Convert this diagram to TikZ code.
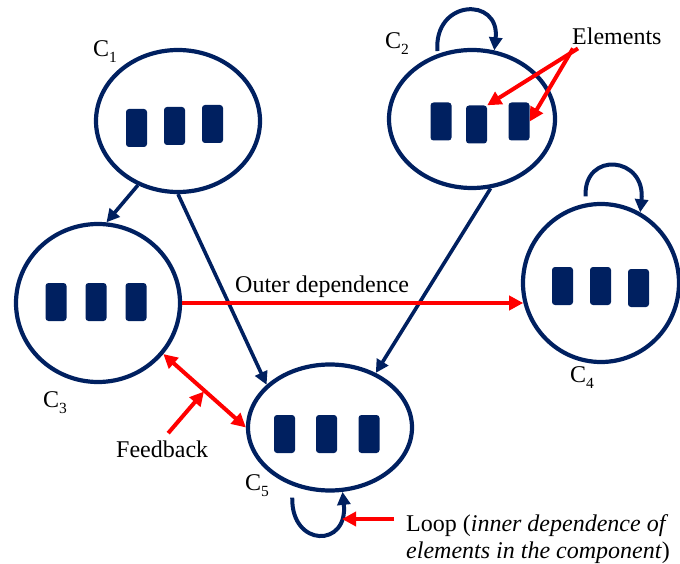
\documentclass[tikz,border=0pt]{standalone}
\usepackage{fontspec}
\setmainfont{Liberation Serif}
\usetikzlibrary{shapes.geometric,arrows.meta,calc}
\definecolor{navy}{HTML}{002060}
\definecolor{redarr}{HTML}{FF0000}
\newcommand\cname[1]{C\raisebox{-6pt}{\fontsize{15.5}{15.5}\selectfont #1}}
\begin{document}
\begin{tikzpicture}[x=1pt,y=-1pt,
  comp/.style={ellipse,draw=navy,line width=4.2pt,inner sep=0pt},
  elem/.style={fill=navy,rounded corners=3pt,minimum width=21pt,minimum height=38pt,inner sep=0pt},
  lbl/.style={inner sep=0pt,anchor=base west,font=\fontsize{24}{28}\selectfont},
  navyarr/.style={draw=navy,line width=3.6pt,-{Triangle[length=13pt,width=13pt]}},
  redarr/.style={draw=redarr,line width=4pt,-{Triangle[length=14pt,width=14pt]}},
  loopline/.style={draw=navy,line width=4pt},
]
\useasboundingbox (0,0) rectangle (680,564);
% components
\node[comp,minimum width=164pt,minimum height=142pt] (c1) at (178,121) {};
\node[comp,minimum width=166pt,minimum height=138pt] (c2) at (472,119) {};
\node[comp,minimum width=164pt,minimum height=158pt] (c3) at (98,303) {};
\node[comp,minimum width=156pt,minimum height=158pt] (c4) at (601,283) {};
\node[comp,minimum width=164pt,minimum height=126pt] (c5) at (330,427.5) {};
% elements
\node[elem] (c1a) at (136.5,128) {};
\node[elem] (c1b) at (174.5,126) {};
\node[elem] (c1c) at (212.5,124) {};
\node[elem] (c2a) at (441,121.5) {};
\node[elem] (c2b) at (476.5,124.5) {};
\node[elem] (c2c) at (519,121.5) {};
\node[elem] (c3a) at (56,302) {};
\node[elem] (c3b) at (96,302) {};
\node[elem] (c3c) at (136,302) {};
\node[elem] (c4a) at (562.5,286) {};
\node[elem] (c4b) at (600.5,286) {};
\node[elem] (c4c) at (638.5,288) {};
\node[elem] (c5a) at (284.5,434) {};
\node[elem] (c5b) at (326.5,434) {};
\node[elem] (c5c) at (369,434) {};
% component labels
\node[lbl] (l1) at (93,57) {\cname{1}};
\node[lbl] (l2) at (385,49) {\cname{2}};
\node[lbl] (l3) at (43,407) {\cname{3}};
\node[lbl] (l4) at (570,382) {\cname{4}};
\node[lbl] (l5) at (245,490) {\cname{5}};
% text labels
\node[lbl] (el) at (572,45) {Elements};
\node[lbl] (od) at (235,292) {Outer dependence};
\node[lbl] (fb) at (116,457) {Feedback};
\node[lbl] (lp1) at (406,531) {Loop (\textit{inner dependence of}};
\node[lbl] (lp2) at (406,558) {\textit{elements in the component}\/)};
% navy dependence arrows
\draw[navyarr] (c1.238) -- (c3.84);
\draw[navyarr] (c1.-90) -- (c5.146);
\draw[navyarr] (c2.-75) -- (c5.50);
% loops
\draw[loopline,-{Triangle[length=13pt,width=13pt]}] ([shift={(0,-3)}]c2.118) .. controls +(-4,-52) and +(6,-54) .. (c2.72);
\draw[loopline,-{Triangle[length=13pt,width=13pt]}] ([shift={(0,-7)}]c4.101) .. controls +(-2,-46) and +(6,-56) .. (c4.61);
\draw[loopline,-{Triangle[length=13pt,width=13pt]}] ([shift={(0,12)}]c5.237) .. controls +(-1,50) and +(6,56) .. (c5.281);
% outer dependence
\draw[redarr] (c3.east) -- (c3.east -| c4.194);
% feedback
\draw[redarr,{Triangle[length=14pt,width=14pt]}-{Triangle[length=14pt,width=14pt]}] (c3.-38) -- (c5.180);
\coordinate (fbmid) at ($(c3.-38)!0.5!(c5.180)$);
\draw[redarr,shorten >=1pt] ([shift={(6,-7)}]fb.north) -- (fbmid);
% elements pointers
\draw[redarr] ([shift={(6,3)}]el.south west) -- (c2b.north east);
\draw[redarr] ([shift={(1,3)}]el.south west) -- (c2c.east);
% loop pointer
\coordinate (looptip) at (342,519);
\draw[redarr] ([xshift=-12pt]lp1.west |- looptip) -- (looptip);
\end{tikzpicture}
\end{document}
